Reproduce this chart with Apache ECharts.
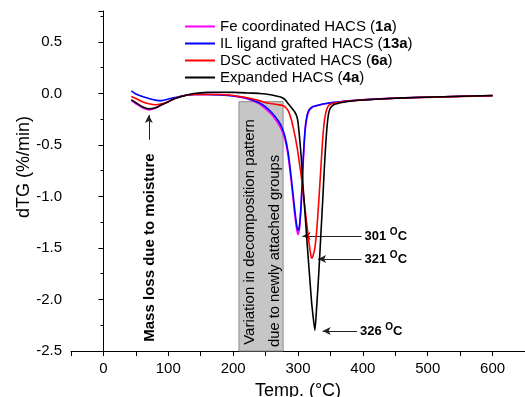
<!DOCTYPE html>
<html>
<head>
<meta charset="utf-8">
<script src="https://cdn.jsdelivr.net/npm/echarts@6/dist/echarts.min.js"></script>
<style>body{margin:0;background:#fff;}</style>
</head>
<body>
<div id="main" style="width:525px;height:397px;"></div>
<script>
// temperature (°C) sampling shared by all curves
var temps = [43, 50, 60, 70, 80, 90, 100, 110, 120, 130,
  140, 160, 180, 200, 220, 240, 250, 260, 270, 275,
  280, 285, 290, 295, 298, 300, 302, 305, 308, 311,
  314, 317, 320, 321, 323, 326, 329, 332, 335, 338,
  341, 344, 347, 350, 355, 360, 370, 380, 400, 420,
  450, 480, 510, 540, 570, 600];

// dTG (%/min)
var dtgFe = [-0.07, -0.10, -0.14, -0.16, -0.145, -0.11, -0.08, -0.05, -0.03, -0.015,
  -0.01, -0.01, -0.01, -0.025, -0.05, -0.10, -0.15, -0.21, -0.30, -0.36,
  -0.45, -0.62, -0.88, -1.18, -1.32, -1.37, -1.33, -1.08, -0.68, -0.37,
  -0.23, -0.17, -0.145, -0.14, -0.13, -0.125, -0.12, -0.115, -0.11, -0.105,
  -0.10, -0.098, -0.095, -0.092, -0.088, -0.085, -0.078, -0.072, -0.062, -0.055,
  -0.047, -0.04, -0.035, -0.03, -0.025, -0.02];
var dtgIL = [0.025, -0.005, -0.03, -0.05, -0.065, -0.07, -0.055, -0.04, -0.025, -0.015,
  -0.01, -0.01, -0.015, -0.025, -0.045, -0.09, -0.13, -0.19, -0.27, -0.33,
  -0.42, -0.58, -0.84, -1.13, -1.28, -1.33, -1.30, -1.05, -0.64, -0.34,
  -0.21, -0.16, -0.14, -0.135, -0.128, -0.122, -0.117, -0.112, -0.107, -0.103,
  -0.10, -0.097, -0.094, -0.091, -0.087, -0.084, -0.077, -0.071, -0.061, -0.054,
  -0.046, -0.04, -0.035, -0.03, -0.026, -0.022];
var dtgDSC = [-0.03, -0.05, -0.08, -0.10, -0.11, -0.10, -0.08, -0.05, -0.03, -0.015,
  -0.01, -0.01, -0.01, -0.02, -0.04, -0.07, -0.09, -0.10, -0.11, -0.115,
  -0.13, -0.17, -0.26, -0.40, -0.50, -0.58, -0.67, -0.80, -0.96, -1.13,
  -1.29, -1.45, -1.58, -1.60, -1.58, -1.50, -1.32, -1.05, -0.75, -0.45,
  -0.25, -0.16, -0.12, -0.105, -0.095, -0.09, -0.08, -0.073, -0.063, -0.056,
  -0.047, -0.041, -0.036, -0.031, -0.026, -0.021];
var dtgExp = [-0.06, -0.09, -0.13, -0.15, -0.14, -0.11, -0.08, -0.05, -0.03, -0.012,
  0.0, 0.01, 0.012, 0.01, 0.005, 0.0, -0.005, -0.015, -0.03, -0.04,
  -0.06, -0.10, -0.14, -0.18, -0.22, -0.28, -0.40, -0.62, -0.92, -1.18,
  -1.45, -1.70, -1.95, -2.03, -2.15, -2.30, -2.05, -1.75, -1.40, -1.05,
  -0.68, -0.38, -0.20, -0.14, -0.11, -0.10, -0.085, -0.076, -0.064, -0.056,
  -0.047, -0.04, -0.035, -0.03, -0.025, -0.02];

var names = ['Fe coordinated HACS (1a)', 'IL ligand grafted HACS (13a)', 'DSC activated HACS (6a)', 'Expanded HACS (4a)'];
var colors = ['#ff00ff', '#0000ff', '#ff0000', '#000000'];
var peakLabels = ['301', '321', '326'];

var font = '"Liberation Sans", Arial, sans-serif';

function pairs(ys) {
  return temps.map(function (t, i) { return [t, ys[i]]; });
}

var chart = echarts.init(document.getElementById('main'));

function lineSeries(idx, ys, extra) {
  var s = {
    name: names[idx],
    type: 'line',
    data: pairs(ys),
    showSymbol: false,
    smooth: 0.2,
    z: 3 + idx,
    lineStyle: { color: colors[idx], width: 1.6 },
    itemStyle: { color: colors[idx] }
  };
  for (var k in extra) s[k] = extra[k];
  return s;
}

var option = {
  animation: false,
  textStyle: { fontFamily: font },
  grid: { left: 71, right: 0, top: 11, bottom: 46, outerBoundsMode: 'none', containLabel: false },
  legend: {
    data: names,
    orient: 'vertical',
    left: 185,
    top: 19,
    padding: 0,
    itemGap: 2,
    itemWidth: 30,
    itemHeight: 2,
    icon: 'rect',
    formatter: function (n) { return n.replace(/\((\w+)\)/, '({b|$1})'); },
    textStyle: {
      fontFamily: font, fontSize: 15, color: '#000',
      rich: { b: { fontFamily: font, fontSize: 15, fontWeight: 'bold', color: '#000' } }
    }
  },
  xAxis: {
    type: 'value',
    min: -50,
    max: 650,
    interval: 50,
    name: 'Temp. (°C)',
    nameLocation: 'middle',
    nameGap: 31,
    nameMoveOverlap: false,
    nameTextStyle: { fontSize: 18, color: '#000', fontFamily: font },
    splitLine: { show: false },
    axisLine: { onZero: false, lineStyle: { color: '#000', width: 1 } },
    axisTick: { length: 5, lineStyle: { color: '#000' } },
    axisLabel: {
      margin: 10, fontSize: 15, color: '#000', fontFamily: font,
      formatter: function (v) { return v % 100 === 0 ? String(v) : ''; }
    }
  },
  yAxis: {
    type: 'value',
    min: -2.5,
    max: 0.8,
    interval: 0.5,
    name: 'dTG (%/min)',
    nameLocation: 'middle',
    nameGap: 38,
    nameMoveOverlap: false,
    nameTextStyle: { fontSize: 18, color: '#000', fontFamily: font, padding: [0, 0, 0, 28] },
    splitLine: { show: false },
    axisLine: { lineStyle: { color: '#000', width: 1 } },
    axisTick: { length: 5, lineStyle: { color: '#000' } },
    minorTick: { show: true, splitNumber: 2, length: 3, lineStyle: { color: '#000' } },
    axisLabel: {
      margin: 9, fontSize: 15, color: '#000', fontFamily: font,
      formatter: function (v) {
        var r = Math.round(v * 10) / 10;
        return Math.abs(r * 2 - Math.round(r * 2)) < 1e-6 && Math.abs(v - r) < 1e-6 ? r.toFixed(1) : '';
      }
    }
  },
  series: [
    lineSeries(3, dtgExp, {
      markArea: {
        silent: true,
        itemStyle: { color: '#c6c6c6', borderColor: '#8c8c8c', borderWidth: 1 },
        data: [[{ coord: [209, -0.08] }, { coord: [277, -2.5] }]]
      },
      markLine: {
        silent: true,
        symbol: ['arrow', 'none'],
        symbolSize: [6, 8],
        lineStyle: { color: '#222', width: 1, type: 'solid' },
        label: {
          show: true,
          position: 'end',
          distance: 3,
          formatter: function (p) { return '{n|' + p.name + ' }{s|O}{n|C}'; },
          rich: {
            n: { fontFamily: font, fontSize: 13, fontWeight: 'bold', color: '#000' },
            s: { fontFamily: font, fontSize: 10, fontWeight: 'bold', color: '#000', padding: [0, 0, 7, 0] }
          }
        },
        data: [
          [{ coord: [307, -1.385], name: peakLabels[0] }, { coord: [398, -1.385] }],
          [{ coord: [331, -1.607], name: peakLabels[1] }, { coord: [398, -1.607] }],
          [{ coord: [338, -2.306], name: peakLabels[2] }, { coord: [391, -2.306] }],
          [{ coord: [70, -0.21], name: '', label: { show: false } }, { coord: [70, -0.45] }]
        ]
      }
    }),
    lineSeries(2, dtgDSC),
    lineSeries(1, dtgIL),
    lineSeries(0, dtgFe)
  ]
};
chart.setOption(option);

// rotated annotations anchored to data coordinates
var pMass = chart.convertToPixel('grid', [71.5, -2.41]);
var pVar1 = chart.convertToPixel('grid', [225.5, -2.44]);
var pVar2 = chart.convertToPixel('grid', [264, -2.46]);
function vtext(p, txt, weight, size) {
  return {
    type: 'text', x: p[0], y: p[1], rotation: Math.PI / 2, z: 100,
    style: { text: txt, fontFamily: font, fontSize: size, fontWeight: weight, fill: '#000', align: 'left', verticalAlign: 'middle' }
  };
}
chart.setOption({
  graphic: [
    vtext(pMass, 'Mass loss due to moisture', 'bold', 15),
    vtext(pVar1, 'Variation in decomposition pattern', 'normal', 15),
    vtext(pVar2, 'due to newly attached groups', 'normal', 14.7)
  ]
});
</script>
</body>
</html>
